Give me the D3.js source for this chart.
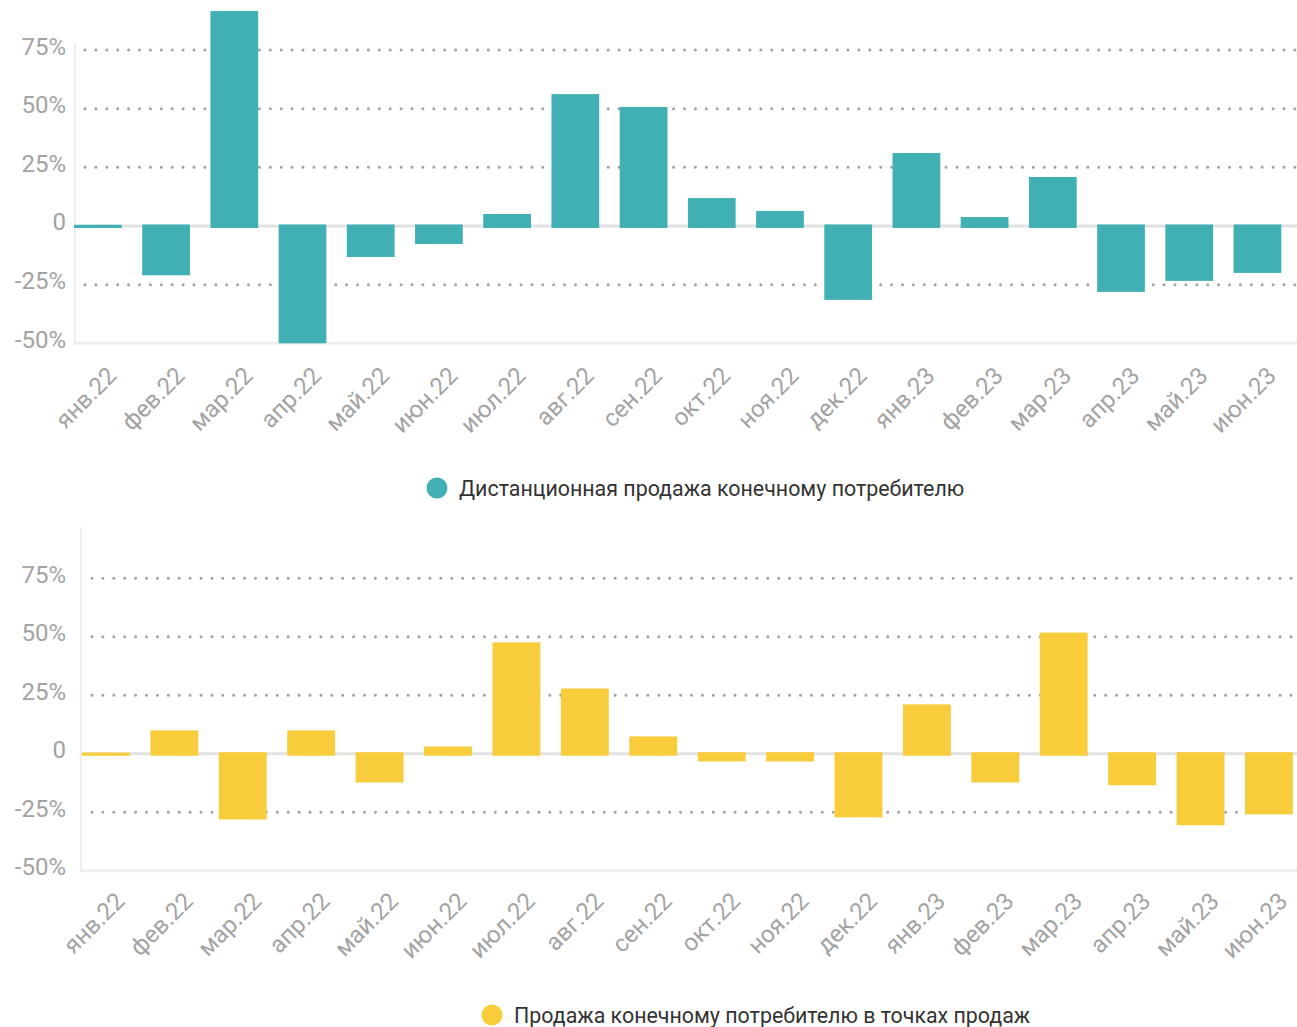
<!DOCTYPE html>
<html>
<head>
<meta charset="utf-8">
<script src="https://cdn.jsdelivr.net/npm/d3@7"></script>
<style>
  body { margin: 0; background: #fff; }
  svg { display: block; font-family: Roboto, "Noto Sans", sans-serif; }
</style>
</head>
<body>
<div class="chart"></div>
<script>
var months = ['янв.22', 'фев.22', 'мар.22', 'апр.22', 'май.22', 'июн.22', 'июл.22', 'авг.22', 'сен.22',
    'окт.22', 'ноя.22', 'дек.22', 'янв.23', 'фев.23', 'мар.23', 'апр.23', 'май.23', 'июн.23'];

var remoteSales = [0.5, -21, 91.6, -50, -13.2, -7.7, 5.1, 56.2, 50.7,
    11.9, 6.4, -31.5, 31.1, 3.8, 20.9, -28.1, -23.4, -20];

var storeSales = [0.5, 10, -28.1, 10, -12.3, 3.1, 47.6, 27.9, 7.4,
    -3.3, -3.3, -27.2, 21.1, -12.3, 51.8, -13.5, -30.6, -25.9];

var yTicks = [-50, -25, 0, 25, 50, 75];
var gridTicks = [-25, 25, 50, 75];

var width = 1297, height = 1027;

var svg = d3.select('.chart')
    .append('svg')
    .attr('width', width)
    .attr('height', height)

function drawPanel(cfg) {
    var g = svg.append('g')

    var y = d3.scaleLinear()
        .domain([-50, 75])
        .range([cfg.bottom, cfg.top75])

    var x = d3.scaleBand()
        .domain(months)
        .range([cfg.barStart, width])
        .paddingInner(0.3)
        .paddingOuter(cfg.outer)
        .align(0)

    // dotted grid
    g.selectAll('.grid')
        .data(gridTicks)
        .enter()
        .append('line')
        .attr('x1', cfg.axisX + cfg.gridOffset)
        .attr('x2', width)
        .attr('y1', d => y(d))
        .attr('y2', d => y(d))
        .style('stroke', '#a0a0a0')
        .style('stroke-width', 3)
        .style('stroke-linecap', 'round')
        .style('stroke-dasharray', '0 10.9')

    // zero line
    g.append('line')
        .attr('x1', cfg.axisX)
        .attr('x2', width)
        .attr('y1', y(0))
        .attr('y2', y(0))
        .style('stroke', '#e2e2e2')
        .style('stroke-width', 3)

    // axis frame
    g.append('line')
        .attr('x1', cfg.axisX)
        .attr('x2', width)
        .attr('y1', y(-50))
        .attr('y2', y(-50))
        .style('stroke', '#eeeeee')
        .style('stroke-width', 3)
    g.append('line')
        .attr('x1', cfg.axisX)
        .attr('x2', cfg.axisX)
        .attr('y1', cfg.axisTop)
        .attr('y2', y(-50) + 1.5)
        .style('stroke', '#eeeeee')
        .style('stroke-width', 2)

    // bars
    g.selectAll('.bar')
        .data(cfg.values)
        .enter()
        .append('rect')
        .attr('x', (d, i) => x(months[i]))
        .attr('width', x.bandwidth())
        .attr('y', d => d >= 0 ? y(d) : y(0) - 1.5)
        .attr('height', d => d >= 0 ? y(0) + 2 - y(d) : y(d) - y(0) + 1.5)
        .style('fill', cfg.color)

    // y labels
    g.selectAll('.ylab')
        .data(yTicks)
        .enter()
        .append('text')
        .attr('x', 66)
        .attr('y', d => y(d) + 4.5)
        .attr('text-anchor', 'end')
        .style('font-size', '24px')
        .style('fill', '#a3a3a3')
        .text(d => d === 0 ? '0' : d + '%')

    // x labels
    g.selectAll('.xlab')
        .data(months)
        .enter()
        .append('text')
        .attr('text-anchor', 'end')
        .attr('transform', d => 'translate(' + (x(d) + x.bandwidth() / 2 + 20) + ',' + (y(-50) + cfg.labelDrop) + ') rotate(-45)')
        .style('font-size', '24px')
        .style('fill', '#a3a3a3')
        .text(d => d)

    // legend
    var leg = g.append('g')
        .attr('transform', 'translate(' + cfg.legendX + ',' + cfg.legendY + ')')
    leg.append('circle')
        .attr('cx', 0)
        .attr('cy', 0)
        .attr('r', 10.5)
        .style('fill', cfg.color)
    leg.append('text')
        .attr('x', 22)
        .attr('y', 7.5)
        .style('font-size', '21.4px')
        .style('fill', '#333')
        .text(cfg.name)
}

drawPanel({
    values: remoteSales,
    color: '#40b0b4',
    name: 'Дистанционная продажа конечному потребителю',
    top75: 50, bottom: 343.3,
    axisX: 75, axisTop: 43, gridOffset: 10,
    barStart: 74, outer: 0.115,
    labelDrop: 34,
    legendX: 437, legendY: 488
})

drawPanel({
    values: storeSales,
    color: '#f8cc3a',
    name: 'Продажа конечному потребителю в точках продаж',
    top75: 578.3, bottom: 870.7,
    axisX: 81, axisTop: 527, gridOffset: 11,
    barStart: 82, outer: 0.03,
    labelDrop: 32,
    legendX: 492, legendY: 1015
})
</script>
</body>
</html>
